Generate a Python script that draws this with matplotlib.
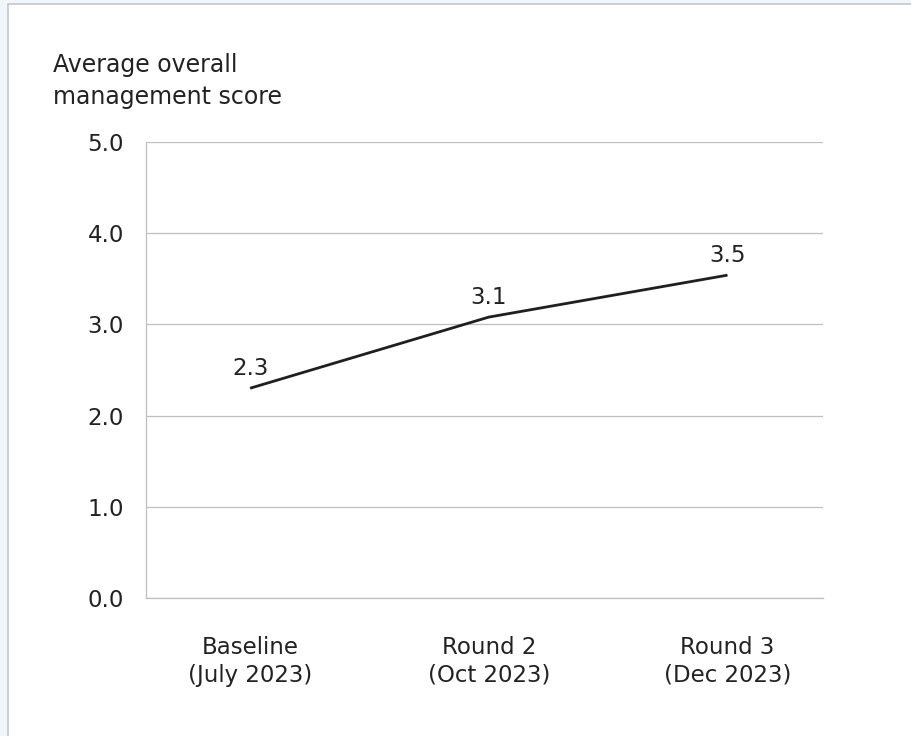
import matplotlib
matplotlib.use('Agg')
import matplotlib.pyplot as plt
from matplotlib.patches import Rectangle

plt.rcParams['font.family'] = ['DejaVu Sans']

# data
rondas = ['Baseline\n(July 2023)', 'Round 2\n(Oct 2023)', 'Round 3\n(Dec 2023)']
scores = [2.30, 3.08, 3.54]
rotulos = ['2.3', '3.1', '3.5']
yticks = [0.0, 1.0, 2.0, 3.0, 4.0, 5.0]

fs = 16.5
cor_txt = '#222222'
cor_grid = '#bfbfbf'

fig = plt.figure(figsize=(9.12, 7.36), dpi=100)
fig.patch.set_facecolor('#f1f6fa')

# painel branco com borda
painel = Rectangle((8 / 912, -0.01), 1.01 - 8 / 912, 1.01 - 4 / 736, transform=fig.transFigure,
                   facecolor='white', edgecolor='#c4c8cc', linewidth=1.2, zorder=-5)
fig.patches.append(painel)

ax = fig.add_axes([146 / 912, 1 - 598 / 736, 677 / 912, 456 / 736])
ax.set_zorder(2)
ax.set_facecolor('none')

x = list(range(len(rondas)))
ax.plot(x, scores, color='#1f1f1f', linewidth=2.0, solid_capstyle='butt', zorder=3)

for xi, yi, txt in zip(x, scores, rotulos):
    ax.annotate(txt, (xi, yi), xytext=(0, 6), textcoords='offset points',
                ha='center', va='bottom', fontsize=fs, color=cor_txt)

ax.set_ylim(0, 5)
ax.set_xlim(-0.436, 2.40)
ax.set_yticks(yticks)
ax.set_yticklabels([f'{v:.1f}' for v in yticks], fontsize=fs, color=cor_txt)
ax.set_xticks(x)
ax.set_xticklabels(rondas, fontsize=fs, color=cor_txt, linespacing=1.3)

ax.yaxis.grid(True, color=cor_grid, linewidth=0.9)
ax.axhline(0, color=cor_grid, linewidth=0.9, clip_on=False, zorder=1)
ax.set_axisbelow(True)
for s in ['top', 'right', 'bottom']:
    ax.spines[s].set_visible(False)
ax.spines['left'].set_color(cor_grid)
ax.spines['left'].set_linewidth(0.9)
ax.tick_params(axis='y', length=0, pad=16)
ax.tick_params(axis='x', length=0, pad=27)

# titulo do eixo y em duas linhas
fig.text(53 / 912, 1 - 72 / 736, 'Average overall', ha='left', va='baseline',
         fontsize=17, color=cor_txt)
fig.text(53 / 912, 1 - 104 / 736, 'management score', ha='left', va='baseline',
         fontsize=17, color=cor_txt)

plt.savefig('out.png', dpi=100, facecolor=fig.get_facecolor())
